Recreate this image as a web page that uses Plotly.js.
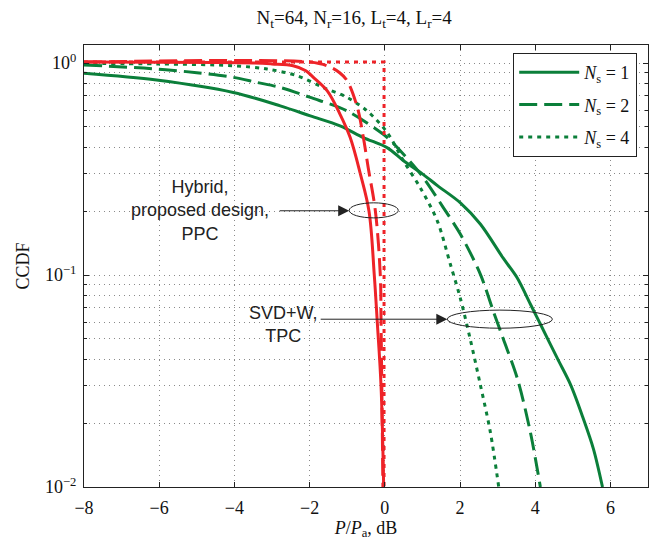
<!DOCTYPE html>
<html>
<head>
<meta charset="utf-8">
<script src="https://cdn.plot.ly/plotly-3.0.1.min.js"></script>
<style>html,body{margin:0;padding:0;background:#fff;}#chart{width:662px;height:544px;}</style>
</head>
<body>
<div id="chart"></div>
<script>
// ---- data ----
// SVD+W, TPC (green)
const ns1X = [-8, -6.07, -4.03, -2.78, -1.98, -1.19, -0.57, 0.07, 0.49, 1.0, 1.4, 2.01, 2.54, 3.15, 3.52, 3.87, 4.14, 4.59, 4.94, 5.28, 5.55, 5.79];
const ns1Y = [0.895, 0.831, 0.726, 0.628, 0.563, 0.505, 0.445, 0.398, 0.347, 0.300, 0.264, 0.219, 0.174, 0.120, 0.097, 0.073, 0.0586, 0.0404, 0.0304, 0.021, 0.0151, 0.010];
const ns2X = [-8, -6.07, -5.0, -4.03, -3.4, -2.78, -1.98, -1.0, -0.04, 0.145, 0.943, 1.556, 2.008, 2.54, 2.886, 3.15, 3.525, 3.87, 4.137];
const ns2Y = [0.98, 0.937, 0.90, 0.856, 0.81, 0.767, 0.688, 0.594, 0.461, 0.432, 0.301, 0.208, 0.156, 0.101, 0.0675, 0.050, 0.0325, 0.0182, 0.010];
const ns4X = [-8, -6, -4.03, -3.13, -2.33, -1.64, -1.0, -0.47, 0.065, 0.49, 0.943, 1.396, 1.74, 2.008, 2.27, 2.54, 2.806, 3.03];
const ns4Y = [0.995, 0.99, 0.971, 0.937, 0.871, 0.767, 0.688, 0.594, 0.47, 0.347, 0.258, 0.180, 0.113, 0.0778, 0.050, 0.0304, 0.0182, 0.010];
// Hybrid, proposed design, PPC (red)
const hy1X = [-8, -3.5, -3, -2.44, -2.1, -1.9, -1.53, -1.19, -0.92, -0.65, -0.42, -0.28, -0.2, -0.1, -0.03];
const hy1Y = [1.01, 1.0, 0.99, 0.971, 0.92, 0.856, 0.739, 0.573, 0.445, 0.30, 0.20, 0.10, 0.06, 0.03, 0.01];
const hy2X = [-8, -2, -1.53, -1.2, -1.0, -0.73, -0.57, -0.44, -0.25, -0.12, -0.1, -0.05];
const hy2Y = [1.01, 1.01, 0.97, 0.90, 0.824, 0.617, 0.445, 0.32, 0.20, 0.10, 0.06, 0.01];
const hy4X = [-8, -0.02, -0.02];
const hy4Y = [1.01, 1.01, 0.01];

const legendNames = ['<i>N</i><sub>s</sub> = 1', '<i>N</i><sub>s</sub> = 2', '<i>N</i><sub>s</sub> = 4'];
const xTicks = [-8, -6, -4, -2, 0, 2, 4, 6];
const yTicks = [0.01, 0.1, 1];
const yTickText = ['10<sup>\u22122</sup>', '10<sup>\u22121</sup>', '10<sup>0</sup>'];
const yMinor = [0.02,0.03,0.04,0.05,0.06,0.07,0.08,0.09,0.2,0.3,0.4,0.5,0.6,0.7,0.8,0.9];

const GREEN = '#0b7f3a';
const RED = '#ee2328';
const LW = 3;
const dashes = ['solid', '18px,7px', '4px,5px'];

const traces = [];
const gX = [ns1X, ns2X, ns4X], gY = [ns1Y, ns2Y, ns4Y];
for (let i = 0; i < 3; i++) {
  traces.push({x: gX[i], y: gY[i], type: 'scatter', mode: 'lines', name: legendNames[i],
    legendgroup: 'g' + i,
    line: {color: GREEN, width: LW, dash: dashes[i], shape: 'spline', smoothing: 0.9}});
}
const rX = [hy1X, hy2X, hy4X], rY = [hy1Y, hy2Y, hy4Y];
for (let i = 0; i < 3; i++) {
  traces.push({x: rX[i], y: rY[i], type: 'scatter', mode: 'lines', showlegend: false,
    line: {color: RED, width: LW, dash: dashes[i], shape: i < 2 ? 'spline' : 'linear', smoothing: 1.0}});
}

const serif = 'Liberation Serif, Times New Roman, serif';
const sans = 'Liberation Sans, Arial, sans-serif';
const gridCol = '#8a8a8a';

const layout = {
  width: 662, height: 544,
  margin: {l: 84, r: 14, t: 45, b: 57},
  paper_bgcolor: '#fff', plot_bgcolor: '#fff',
  font: {family: serif, size: 18, color: '#111'},
  title: {text: 'N<sub>t</sub>=64, N<sub>r</sub>=16, L<sub>t</sub>=4, L<sub>r</sub>=4',
    font: {family: serif, size: 19, color: '#111'}, x: 0.535, xanchor: 'center', y: 0.968, yanchor: 'middle'},
  showlegend: true,
  legend: {x: 0.761, y: 0.982, xanchor: 'left', yanchor: 'top', bgcolor: '#fff',
    bordercolor: '#222', borderwidth: 1, font: {family: serif, size: 18, color: '#111'},
    tracegroupgap: 6, itemwidth: 60},
  xaxis: {
    range: [-8, 7], tickvals: xTicks, ticks: 'inside', ticklen: 5, tickcolor: '#222',
    showline: true, linecolor: '#222', linewidth: 1, mirror: 'allticks',
    showgrid: true, gridcolor: gridCol, griddash: '1px,4px', gridwidth: 1, zeroline: false,
    tickfont: {family: serif, size: 18}, ticklabelstandoff: 4,
    title: {text: '<i>P</i>/<i>P</i><sub>a</sub>, dB', font: {family: serif, size: 18}, standoff: 0}
  },
  yaxis: {
    type: 'log', range: [-2, 0.085], tickvals: yTicks, ticktext: yTickText,
    ticks: 'inside', ticklen: 5, tickcolor: '#222',
    showline: true, linecolor: '#222', linewidth: 1, mirror: 'allticks',
    showgrid: true, gridcolor: gridCol, griddash: '1px,4px', gridwidth: 1, zeroline: false,
    tickfont: {family: serif, size: 18}, ticklabelstandoff: 3,
    minor: {tickmode: 'array', tickvals: yMinor, ticks: 'inside', ticklen: 3, tickcolor: '#222',
      showgrid: true, gridcolor: gridCol, griddash: '1px,4px', gridwidth: 1},
    title: {text: 'CCDF', font: {family: serif, size: 18}, standoff: 10}
  },
  annotations: [
    {text: 'Hybrid,<br>proposed design,<br>PPC', xref: 'x', yref: 'y', x: -4.91, y: -0.697,
      showarrow: false, font: {family: sans, size: 18, color: '#222'}, align: 'center'},
    {text: 'SVD+W,<br>TPC', xref: 'x', yref: 'y', x: -2.7, y: -1.232,
      showarrow: false, font: {family: sans, size: 18, color: '#222'}, align: 'center'},
    {text: '', xref: 'x', yref: 'y', x: -0.947, y: -0.697, axref: 'x', ayref: 'y', ax: -2.836, ay: -0.697,
      showarrow: true, arrowhead: 2, arrowsize: 2.2, arrowwidth: 1, arrowcolor: '#222', standoff: 0, startstandoff: 0},
    {text: '', xref: 'x', yref: 'y', x: 1.662, y: -1.2085, axref: 'x', ayref: 'y', ax: -1.745, ay: -1.2085,
      showarrow: true, arrowhead: 2, arrowsize: 2.2, arrowwidth: 1, arrowcolor: '#222', standoff: 0, startstandoff: 0}
  ],
  shapes: [
    {type: 'circle', xref: 'x', yref: 'y', x0: -0.947, x1: 0.358, y0: 0.186, y1: 0.219,
      line: {color: '#222', width: 1}, fillcolor: 'rgba(0,0,0,0)'},
    {type: 'circle', xref: 'x', yref: 'y', x0: 1.662, x1: 4.457, y0: 0.0561, y1: 0.0683,
      line: {color: '#222', width: 1}, fillcolor: 'rgba(0,0,0,0)'}
  ]
};

Plotly.newPlot('chart', traces, layout, {staticPlot: true, displayModeBar: false});
</script>
</body>
</html>
